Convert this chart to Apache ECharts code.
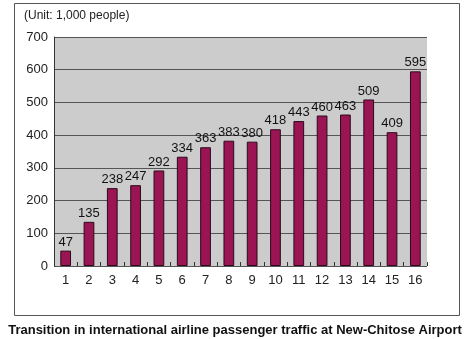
<!DOCTYPE html>
<html><head><meta charset="utf-8">
<script src="https://cdn.jsdelivr.net/npm/echarts@6/dist/echarts.min.js"></script>
<style>html,body{margin:0;padding:0;background:#fff}#c{width:470px;height:339px}</style>
</head><body><div id="c"></div>
<script>
var categories = ['1','2','3','4','5','6','7','8','9','10','11','12','13','14','15','16'];
var values = [47,135,238,247,292,334,363,383,380,418,443,460,463,509,409,595];
var yTicks = [0,100,200,300,400,500,600,700];
var unitText = '(Unit: 1,000 people)';
var titleText = 'Transition in international airline passenger traffic at New-Chitose Airport';

var chart = echarts.init(document.getElementById('c'), null, {renderer:'canvas'});
chart.setOption({
  animation:false,
  backgroundColor:'#fff',
  title:{text:titleText, left:'center', top:319, textStyle:{fontFamily:'Liberation Sans, Arial', fontSize:13, fontWeight:'bold', color:'#111'}},
  graphic:[
    {type:'rect', shape:{x:14.5,y:3.5,width:445,height:312}, style:{fill:'none', stroke:'#555', lineWidth:1}, silent:true},
    {type:'text', left:24, top:10, style:{text:unitText, font:'12px Liberation Sans, Arial', fill:'#222'}}
  ],
  grid:{left:54, top:37, width:373, height:229, show:true, backgroundColor:'#cccccc', borderWidth:0},
  xAxis:{type:'category', data:categories,
    axisLine:{show:false},
    axisTick:{show:true, inside:true, length:4, lineStyle:{color:'#333'}},
    axisLabel:{fontFamily:'Liberation Sans, Arial', fontSize:13, color:'#222', margin:8}},
  yAxis:{type:'value', min:yTicks[0], max:yTicks[yTicks.length-1], interval:100,
    axisLine:{show:true, lineStyle:{color:'#333'}},
    axisTick:{show:false},
    splitLine:{lineStyle:{color:'#555', width:1}},
    axisLabel:{fontFamily:'Liberation Sans, Arial', fontSize:13, color:'#222', margin:6}},
  series:[{type:'bar', data:values, barWidth:'46%',
    itemStyle:{color:'#9b1454', borderColor:'#2a0a18', borderWidth:1},
    label:{show:true, position:'top', distance:2, fontFamily:'Liberation Sans, Arial', fontSize:13, color:'#111'}}]
});
</script></body></html>
